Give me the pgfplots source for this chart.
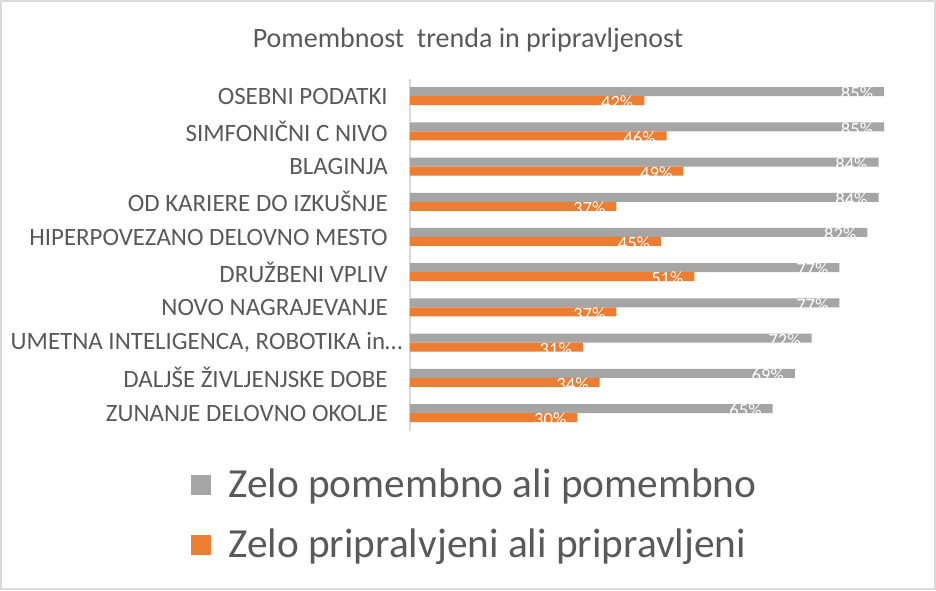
\documentclass[border=0pt]{standalone}
\usepackage{pgfplots}
\pgfplotsset{compat=1.18}
\usepackage{fontspec}
\setmainfont{Carlito}
\definecolor{cgrey}{HTML}{A5A5A5}
\definecolor{corange}{HTML}{ED7D31}
\definecolor{ctext}{HTML}{595959}
\definecolor{cframe}{HTML}{D9D9D9}
\begin{document}
\begin{tikzpicture}
\useasboundingbox (0,0) rectangle (702pt,442.5pt);
\fill[white] (0,0) rectangle (702pt,442.5pt);
\draw[cframe, line width=1.5pt] (0.75pt,0.75pt) rectangle (701.25pt,441.75pt);
\node[text=ctext, font=\fontsize{21pt}{24pt}\selectfont] at (351pt,412.5pt) {Pomembnost\ \ trenda in pripravljenost};
\begin{axis}[
  at={(307.5pt,119.55pt)}, anchor=south west,
  scale only axis, width=376.5pt, height=264pt,
  xbar, bar width=6.75pt,
  xmin=0, xmax=90, ymin=-0.5, ymax=9.5,
  y dir=reverse,
  axis x line=none,
  axis y line*=left,
  axis line style={cframe, line width=1pt},
  ytick={0,...,9},
  major tick length=0pt,
  /pgf/number format/assume math mode=true,
  yticklabels={OSEBNI PODATKI,SIMFONIČNI C NIVO,BLAGINJA,OD KARIERE DO IZKUŠNJE,HIPERPOVEZANO DELOVNO MESTO,DRUŽBENI VPLIV,NOVO NAGRAJEVANJE,{UMETNA INTELIGENCA, ROBOTIKA in…\hspace*{-11pt}},DALJŠE ŽIVLJENJSKE DOBE,ZUNANJE DELOVNO OKOLJE},
  yticklabel style={text=ctext, font=\fontsize{18.7pt}{21pt}\selectfont, inner sep=0pt, anchor=east, xshift=-16.5pt},
  nodes near coords={\pgfplotspointmeta\%},
  nodes near coords style={text=white, font=\fontsize{14pt}{16pt}\selectfont, anchor=east, inner sep=0pt, xshift=-8pt, yshift=-1.5pt},
  point meta=explicit symbolic,
  legend style={draw=none, fill=none, at={(-0.436,-0.109)}, anchor=north west, font=\fontsize{31pt}{36pt}\selectfont, text=ctext, row sep=22pt, inner sep=0pt, nodes={inner sep=0pt}},
  legend cell align=left,
  legend image code/.code={\fill (0pt,-7.5pt) rectangle (15pt,7.5pt); \path (27.75pt,0pt);},
  clip=false,
]
\addplot[fill=cgrey, draw=none, bar shift=3.375pt] coordinates {
(85,0)[85] (85,1)[85] (84,2)[84] (84,3)[84] (82,4)[82] (77,5)[77] (77,6)[77] (72,7)[72] (69,8)[69] (65,9)[65]};
\addplot[fill=corange, draw=none, bar shift=-3.375pt] coordinates {
(42,0)[42] (46,1)[46] (49,2)[49] (37,3)[37] (45,4)[45] (51,5)[51] (37,6)[37] (31,7)[31] (34,8)[34] (30,9)[30]};
\legend{Zelo pomembno ali pomembno, Zelo pripralvjeni ali pripravljeni}
\end{axis}
\end{tikzpicture}
\end{document}
